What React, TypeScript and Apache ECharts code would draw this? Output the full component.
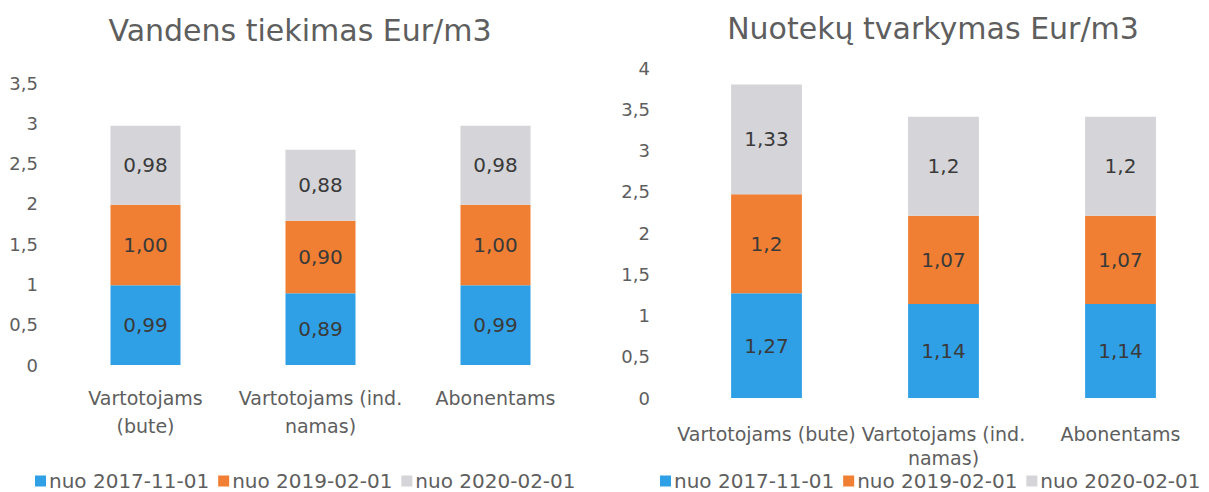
import React, { useEffect, useRef } from "react";
import * as echarts from "echarts";

const seriesNames = ["nuo 2017-11-01", "nuo 2019-02-01", "nuo 2020-02-01"];
const colors = ["#30a0e6", "#f07f33", "#d4d4d9"];

const waterTitle = "Vandens tiekimas Eur/m3";
const waterCategories = ["Vartotojams\n(bute)", "Vartotojams (ind.\nnamas)", "Abonentams"];
const water2017 = [0.99, 0.89, 0.99];
const water2019 = [1.0, 0.9, 1.0];
const water2020 = [0.98, 0.88, 0.98];

const sewerTitle = "Nuotekų tvarkymas Eur/m3";
const sewerCategories = ["Vartotojams (bute)", "Vartotojams (ind.\nnamas)", "Abonentams"];
const sewer2017 = [1.27, 1.14, 1.14];
const sewer2019 = [1.2, 1.07, 1.07];
const sewer2020 = [1.33, 1.2, 1.2];

const FONT = "DejaVu Sans";
const GRAY = "#5e5e5e";

const commaFmt = (v: number, d?: number) =>
  (d === undefined ? String(v) : v.toFixed(d)).replace(".", ",");

export default function App() {
  const ref = useRef<HTMLDivElement>(null);
  useEffect(() => {
    if (!ref.current) return;
    const chart = echarts.init(ref.current, undefined, { renderer: "svg" });

    const mkSeries = (data: number[][], xi: number, decimals: number | undefined) =>
      data.map((d, i) => ({
        name: seriesNames[i],
        type: "bar",
        stack: "s" + xi,
        xAxisIndex: xi,
        yAxisIndex: xi,
        barWidth: "40%",
        data: d,
        itemStyle: { color: colors[i] },
        label: {
          show: true,
          position: "inside",
          color: "#3a3a3a",
          fontFamily: FONT,
          fontSize: 20,
          formatter: (p: any) => commaFmt(p.value, decimals),
        },
      }));

    const yAxisCommon = (max: number, margin: number) => ({
      type: "value",
      min: 0,
      max,
      interval: 0.5,
      splitLine: { show: false },
      axisLine: { show: false },
      axisTick: { show: false },
      axisLabel: {
        color: GRAY,
        fontFamily: FONT,
        fontSize: 18,
        margin,
        formatter: (v: number) => commaFmt(v),
      },
    });

    const xAxisCommon = (cats: string[], gi: number, margin: number, lh: number) => ({
      type: "category",
      gridIndex: gi,
      data: cats,
      axisLine: { show: false },
      axisTick: { show: false },
      axisLabel: {
        color: GRAY,
        fontFamily: FONT,
        fontSize: 19,
        margin,
        lineHeight: lh,
        interval: 0,
      },
    });

    const legendCommon = {
      itemWidth: 11,
      itemHeight: 11,
      itemGap: 9,
      icon: "rect",
      orient: "horizontal",
      textStyle: { color: GRAY, fontFamily: FONT, fontSize: 20, lineHeight: 20, padding: [0, 0, 0, -2] },
      data: seriesNames,
    };

    chart.setOption({
      animation: false,
      backgroundColor: "#ffffff",
      title: [
        {
          text: waterTitle,
          left: 295,
          top: 10,
          textAlign: "center",
          textStyle: { color: GRAY, fontFamily: FONT, fontSize: 30, fontWeight: "normal" },
        },
        {
          text: sewerTitle,
          left: 928,
          top: 8,
          textAlign: "center",
          textStyle: { color: GRAY, fontFamily: FONT, fontSize: 30, fontWeight: "normal" },
        },
      ],
      legend: [
        { ...legendCommon, left: 30, top: 466, width: 570 },
        { ...legendCommon, left: 655, top: 466, width: 552 },
      ],
      grid: [
        { left: 58, top: 83, width: 525, height: 282 },
        { left: 678, top: 68, width: 567, height: 330 },
      ],
      xAxis: [
        xAxisCommon(waterCategories, 0, 19, 28),
        xAxisCommon(sewerCategories, 1, 24, 24),
      ],
      yAxis: [
        { ...yAxisCommon(3.5, 20), gridIndex: 0 },
        { ...yAxisCommon(4, 28), gridIndex: 1 },
      ],
      series: [
        ...mkSeries([water2017, water2019, water2020], 0, 2),
        ...mkSeries([sewer2017, sewer2019, sewer2020], 1, undefined),
      ],
    });
    return () => chart.dispose();
  }, []);
  return (
    <div
      ref={ref}
      style={{ position: "absolute", left: 0, top: 0, width: 1209, height: 492 }}
    />
  );
}
